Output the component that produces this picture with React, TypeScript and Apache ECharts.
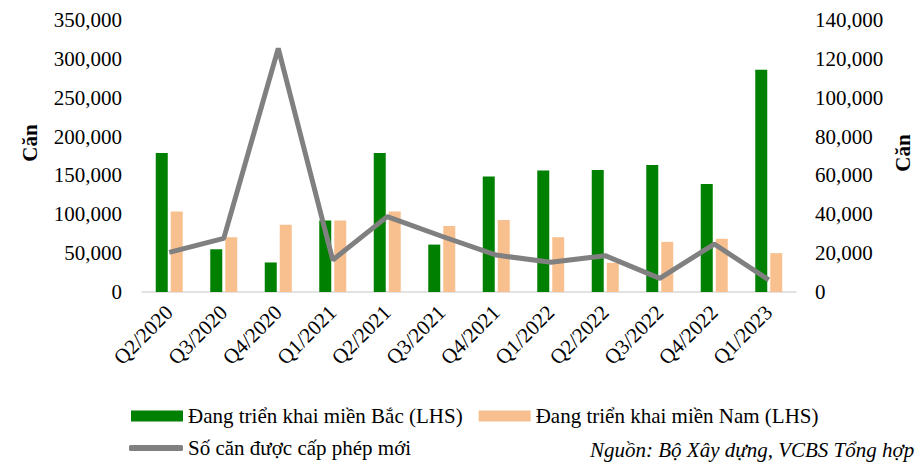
import React, { useEffect, useRef } from "react";
import * as echarts from "echarts";

const categories = ["Q2/2020","Q3/2020","Q4/2020","Q1/2021","Q2/2021","Q3/2021","Q4/2021","Q1/2022","Q2/2022","Q3/2022","Q4/2022","Q1/2023"];
const northValues = [179000, 55000, 38000, 92000, 179000, 61000, 148500, 156500, 157000, 163500, 139000, 286000];
const southValues = [103500, 70500, 86500, 92000, 103500, 85000, 92500, 70500, 37500, 64500, 68500, 50000];
const permitValues = [20400, 27600, 125400, 16500, 38800, 28700, 19000, 15300, 18700, 7000, 24700, 6200];
const leftTicks = { min: 0, max: 350000, interval: 50000 };
const rightTicks = { min: 0, max: 140000, interval: 20000 };

const FONT = "'Liberation Serif', 'Times New Roman', serif";
const FS = 21;
const fmt = (v: number) => v.toLocaleString("en-US");

export default function App() {
  const ref = useRef<HTMLDivElement>(null);
  useEffect(() => {
    if (!ref.current) return;
    const chart = echarts.init(ref.current, undefined, { renderer: "svg" });
    chart.setOption({
      animation: false,
      backgroundColor: "#ffffff",
      grid: { left: 142, right: 119, top: 20, bottom: 170, containLabel: false },
      legend: [
        {
          data: ["Đang triển khai miền Bắc (LHS)", "Đang triển khai miền Nam (LHS)"],
          left: 126,
          top: 400,
          itemWidth: 52,
          itemHeight: 11,
          itemGap: 16,
          icon: "rect",
          textStyle: { fontFamily: FONT, fontSize: FS, color: "#000", lineHeight: 22 },
        },
        {
          data: ["Số căn được cấp phép mới"],
          left: 124,
          top: 432,
          itemWidth: 54,
          itemHeight: 6,
          icon: "roundRect",
          textStyle: { fontFamily: FONT, fontSize: FS, color: "#000", lineHeight: 22 },
        },
      ],
      xAxis: {
        type: "category",
        data: categories,
        axisLine: { show: true, lineStyle: { color: "#d9d9d9", width: 1.5 } },
        axisTick: { show: false },
        axisLabel: {
          rotate: 45,
          interval: 0,
          margin: 17,
          fontFamily: FONT,
          fontSize: FS,
          color: "#000",
        },
      },
      yAxis: [
        {
          type: "value",
          ...leftTicks,
          splitLine: { show: false },
          axisLine: { show: false },
          axisTick: { show: false },
          axisLabel: { formatter: fmt, margin: 20, fontFamily: FONT, fontSize: FS, color: "#000" },
        },
        {
          type: "value",
          ...rightTicks,
          position: "right",
          splitLine: { show: false },
          axisLine: { show: false },
          axisTick: { show: false },
          axisLabel: { formatter: fmt, margin: 19, fontFamily: FONT, fontSize: FS, color: "#000" },
        },
      ],
      series: [
        {
          name: "Đang triển khai miền Bắc (LHS)",
          type: "bar",
          data: northValues,
          barWidth: 12,
          barGap: "25%",
          itemStyle: { color: "#008000" },
        },
        {
          name: "Đang triển khai miền Nam (LHS)",
          type: "bar",
          data: southValues,
          barWidth: 12,
          itemStyle: { color: "#F9C08F" },
        },
        {
          name: "Số căn được cấp phép mới",
          type: "line",
          yAxisIndex: 1,
          data: permitValues,
          symbol: "none",
          lineStyle: { color: "#808080", width: 5 },
          itemStyle: { color: "#808080" },
        },
      ],
      graphic: [
        {
          type: "text",
          x: 30,
          y: 143,
          rotation: Math.PI / 2,
          style: { text: "Căn", fontFamily: FONT, fontSize: FS, fontWeight: "bold", fill: "#000", align: "center", verticalAlign: "middle" },
        },
        {
          type: "text",
          x: 903,
          y: 153,
          rotation: Math.PI / 2,
          style: { text: "Căn", fontFamily: FONT, fontSize: FS, fontWeight: "bold", fill: "#000", align: "center", verticalAlign: "middle" },
        },
        {
          type: "text",
          x: 590,
          y: 450,
          style: { text: "Nguồn: Bộ Xây dựng, VCBS Tổng hợp", fontFamily: FONT, fontSize: FS, fontStyle: "italic", fill: "#000", align: "left", verticalAlign: "middle", lineHeight: 22 },
        },
      ],
    });
    return () => chart.dispose();
  }, []);
  return <div ref={ref} style={{ width: 915, height: 462, position: "absolute", left: 0, top: 0 }} />;
}
